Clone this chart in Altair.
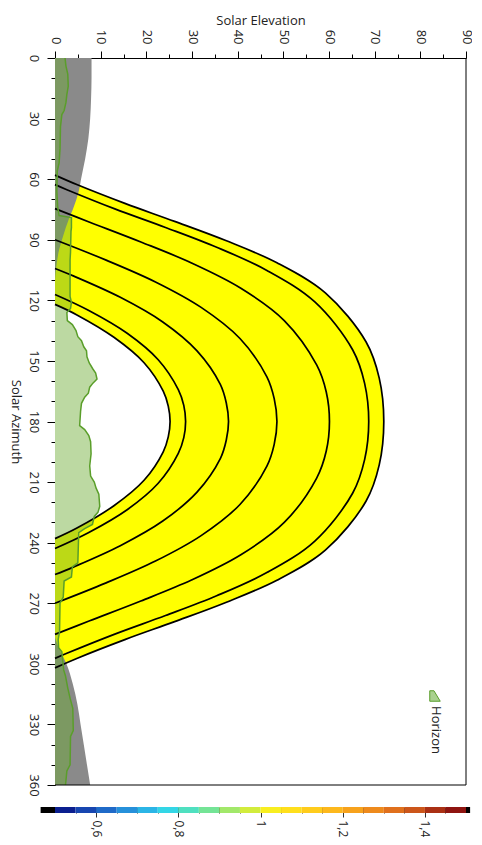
import altair as alt
import pandas as pd

# ---------------- data ----------------
# sun paths (azimuth in deg, elevation in deg), outermost = summer solstice
c7_az = [58.0, 62.8, 72.0, 80.9, 90.4, 101.4, 116.3, 140.5, 158.5, 180.0, 201.5, 219.5, 243.7, 258.6, 269.6, 279.1, 288.0, 297.2, 302.0]
c7_el = [0, 4.9, 15.3, 26.2, 37.4, 48.6, 59.2, 68.1, 71.0, 72.0, 71.0, 68.1, 59.2, 48.6, 37.4, 26.2, 15.3, 4.9, 0]
c6_az = [62.7, 65.2, 74.7, 83.9, 93.7, 105.3, 120.8, 144.6, 161.1, 180.0, 198.9, 215.4, 239.2, 254.7, 266.3, 276.1, 285.3, 294.8, 297.3]
c6_el = [0, 2.6, 13.1, 24.2, 35.4, 46.5, 56.9, 65.2, 67.8, 68.7, 67.8, 65.2, 56.9, 46.5, 35.4, 24.2, 13.1, 2.6, 0]
c5_az = [74.6, 81.3, 91.1, 101.6, 114.0, 130.0, 152.0, 165.4, 180.0, 194.6, 208.0, 230.0, 246.0, 258.4, 268.9, 278.7, 285.4]
c5_el = [0, 7.6, 18.8, 30.0, 40.7, 50.2, 57.3, 59.4, 60.1, 59.4, 57.3, 50.2, 40.7, 30.0, 18.8, 7.6, 0]
c4_az = [90.0, 100.1, 110.9, 123.5, 138.9, 157.9, 168.7, 180.0, 191.3, 202.1, 221.1, 236.5, 249.1, 259.9, 270.0]
c4_el = [0, 11.2, 22.0, 32.0, 40.5, 46.4, 48.0, 48.6, 48.0, 46.4, 40.5, 32.0, 22.0, 11.2, 0]
c3_az = [104.2, 107.9, 118.5, 130.7, 145.0, 161.6, 170.7, 180.0, 189.3, 198.4, 215.0, 229.3, 241.5, 252.1, 255.8]
c3_el = [0, 4.0, 14.3, 23.6, 31.1, 36.2, 37.5, 38.0, 37.5, 36.2, 31.1, 23.6, 14.3, 4.0, 0]
c2_az = [117.1, 124.9, 136.3, 149.4, 164.2, 172.0, 180.0, 188.0, 195.8, 210.6, 223.7, 235.1, 242.9]
c2_el = [0, 7.3, 15.8, 22.6, 27.0, 28.2, 28.6, 28.2, 27.0, 22.6, 15.8, 7.3, 0]
c1_az = [122.0, 127.1, 138.3, 150.9, 165.0, 172.4, 180.0, 187.6, 195.0, 209.1, 221.7, 232.9, 238.0]
c1_el = [0, 4.7, 12.9, 19.5, 23.7, 24.8, 25.2, 24.8, 23.7, 19.5, 12.9, 4.7, 0]

# grey region near the horizon (two parts)
grayA_az = [0, 10, 20, 30, 40, 50, 60, 65, 70, 75, 80, 88, 95, 105, 110]
grayA_el = [8.0, 8.0, 7.9, 7.7, 7.3, 6.6, 5.7, 5.3, 4.7, 3.9, 3.0, 1.8, 0.9, 0.2, 0]
grayB_az = [287, 292, 300, 310, 320, 330, 340, 350, 360]
grayB_el = [0, 0.8, 2.5, 3.9, 4.9, 5.6, 6.3, 7.0, 7.7]

# horizon profile
hor_az = [0, 4, 8, 14, 18, 22, 26, 28, 34, 45, 52, 56, 66, 74, 78, 79, 84, 86, 96, 100, 110, 118, 121, 124, 126, 130,
          132, 135, 138, 140, 143, 145, 148, 151, 154, 156, 159, 161, 163, 166, 168, 171, 175, 182, 184, 187, 190,
          196, 202, 207, 210, 213, 216, 222, 225, 227, 231, 233, 235, 250, 252, 257, 259, 267, 270, 284, 288, 292,
          294, 303, 306, 312, 317, 322, 333, 336, 350, 353, 360]
hor_el = [2.2, 2.4, 2.8, 2.9, 2.6, 2.4, 2.0, 1.5, 1.2, 1.1, 0.9, 0.5, 0.4, 0.6, 0.9, 3.6, 3.6, 3.5, 3.4, 3.3, 3.3, 3.3, 3.6, 3.4, 2.6, 2.7,
          3.8, 4.6, 5.0, 5.8, 6.3, 6.9, 7.0, 7.5, 8.3, 8.9, 9.2, 8.3, 7.6, 7.3, 6.5, 5.8, 5.6, 5.4, 6.5, 7.4, 7.8,
          7.9, 7.6, 7.8, 8.6, 9.0, 9.6, 9.8, 9.4, 8.6, 8.2, 6.5, 5.2, 5.0, 3.8, 3.6, 2.0, 1.8, 1.1, 1.0, 0.7, 0.8,
          1.5, 1.9, 2.3, 2.8, 3.3, 3.9, 4.0, 3.4, 3.3, 2.6, 2.3]

# colour bar cells
cb_lo = [0.465, 0.50, 0.55, 0.60, 0.65, 0.70, 0.75, 0.80, 0.85, 0.90, 0.95,
         1.00, 1.05, 1.10, 1.15, 1.20, 1.25, 1.30, 1.35, 1.40, 1.45, 1.50]
cb_hi = [0.50, 0.55, 0.60, 0.65, 0.70, 0.75, 0.80, 0.85, 0.90, 0.95, 1.00,
         1.05, 1.10, 1.15, 1.20, 1.25, 1.30, 1.35, 1.40, 1.45, 1.50, 1.51]
cb_ticks = [0.55, 0.6, 0.65, 0.7, 0.75, 0.8, 0.85, 0.9, 0.95, 1.0, 1.05, 1.1, 1.15, 1.2, 1.25, 1.3, 1.35, 1.4, 1.45]

cb_colors = ["#000000", "#0b1f8f", "#1746b0", "#1f6ac8", "#2690da", "#2bb5e6", "#33d6e6", "#4fe0c0",
             "#74e496", "#a2e86a", "#d2ec3c", "#f8ee20", "#ffdf1c", "#ffcc1c", "#fdb81c", "#f7a21c",
             "#ee8a1c", "#e0701c", "#cc561a", "#aa3014", "#8e1410", "#000000"]

# ---------------- frames ----------------
curves = []
for name, az, el in [("c1", c1_az, c1_el), ("c2", c2_az, c2_el), ("c3", c3_az, c3_el), ("c4", c4_az, c4_el),
                     ("c5", c5_az, c5_el), ("c6", c6_az, c6_el), ("c7", c7_az, c7_el)]:
    curves.append(pd.DataFrame({"az": az, "el": el, "curve": name, "i": range(len(az))}))
paths = pd.concat(curves, ignore_index=True)
outer = pd.DataFrame({"az": c7_az, "el": c7_el})
inner = pd.DataFrame({"az": c1_az, "el": c1_el})
gray = pd.concat([
    pd.DataFrame({"az": grayA_az, "el": grayA_el, "part": "a"}),
    pd.DataFrame({"az": grayB_az, "el": grayB_el, "part": "b"}),
], ignore_index=True)
horizon = pd.DataFrame({"az": hor_az, "el": hor_el, "i": range(len(hor_az))})
cbdf = pd.DataFrame({"lo": cb_lo, "hi": cb_hi, "k": [f"k{j:02d}" for j in range(len(cb_lo))]})

FONT = "Open Sans"

xaxis = alt.Axis(orient="top", values=list(range(0, 91, 5)),
                 labelExpr="datum.value % 10 === 0 ? datum.label : ''",
                 labelAngle=90, labelPadding=7,
                 tickSize={"condition": {"test": "datum.value % 10 === 0", "value": 7}, "value": 4},
                 title="Solar Elevation", titlePadding=2)
yaxis = alt.Axis(orient="left", values=list(range(0, 361, 10)),
                 labelExpr="datum.value % 30 === 0 ? datum.label : ''",
                 labelAngle=90, labelPadding=8,
                 tickSize={"condition": {"test": "datum.value % 30 === 0", "value": 8}, "value": 4},
                 title="Solar Azimuth", titleAngle=90, titleBaseline="top", titlePadding=5)

xscale = alt.Scale(domain=[0, 90], nice=False)
yscale = alt.Scale(domain=[0, 360], nice=False, reverse=True)
X = alt.X("el:Q", scale=xscale, axis=xaxis)
XA = alt.X("el:Q", scale=xscale, axis=xaxis, stack=None)
Y = alt.Y("az:Q", scale=yscale, axis=yaxis)

yellow = alt.Chart(outer).mark_area(orient="horizontal", interpolate="catmull-rom", color="#ffff00").encode(
    x=XA, y=Y)
white = alt.Chart(inner).mark_area(orient="horizontal", interpolate="catmull-rom", color="#ffffff").encode(
    x=XA, y=Y)
grey = alt.Chart(gray).mark_area(orient="horizontal", interpolate="monotone", color="#8a8a8a").encode(
    x=XA, y=Y, detail="part:N")
hfill = alt.Chart(horizon).mark_area(orient="horizontal", color="#6aaa30", opacity=0.45).encode(
    x=XA, y=Y)
lines = alt.Chart(paths).mark_line(interpolate="catmull-rom", color="#000000", strokeWidth=1.7).encode(
    x=X, y=Y, detail="curve:N", order="i:Q")
hline = alt.Chart(horizon).mark_line(color="#5a9e2a", strokeWidth=1.5).encode(
    x=X, y=Y, order="i:Q")
right_edge = alt.Chart(pd.DataFrame({"el": [90]})).mark_rule(color="#000000", strokeWidth=1).encode(x=X)
bottom_edge = alt.Chart(pd.DataFrame({"az": [360]})).mark_rule(color="#000000", strokeWidth=1).encode(y=Y)

leg_sym = alt.Chart(pd.DataFrame({"t": ["Horizon"]})).mark_point(
    shape="M -1 1 L -1 -1 L -0.2 -1 L 1 1 Z", filled=True, fill="#a9d18e", stroke="#5a9e2a",
    strokeWidth=1, size=110, opacity=1).encode(x=alt.value(380), y=alt.value(638))
leg_txt = alt.Chart(pd.DataFrame({"t": ["Horizon"]})).mark_text(
    angle=90, align="center", baseline="middle", font=FONT, fontSize=13, color="#222").encode(
    x=alt.value(381), y=alt.value(672), text="t:N")

main = alt.layer(yellow, white, grey, hfill, lines, hline, right_edge, bottom_edge, leg_sym, leg_txt).properties(
    width=411, height=727)

cbtest = "abs(datum.value*5 - round(datum.value*5)) < 0.001"
cbar = alt.Chart(cbdf).mark_rect().encode(
    x=alt.X("lo:Q", scale=alt.Scale(domain=[0.5, 1.5], nice=False, zero=False),
            axis=alt.Axis(orient="bottom", values=cb_ticks, domain=False, offset=-6,
                          labelExpr=f"{cbtest} ? replace(format(datum.value, '.1~f'), '.', ',') : ''",
                          labelAngle=90, labelPadding=3, labelFontSize=12,
                          tickSize={"condition": {"test": cbtest, "value": 10}, "value": 6},
                          tickColor="#333", title=None)),
    x2="hi:Q",
    color=alt.Color("k:N", scale=alt.Scale(domain=list(cbdf["k"]), range=cb_colors), legend=None),
).properties(width=411, height=6)

chart = alt.vconcat(main, cbar, spacing=9).properties(
    padding={"left": 0, "top": 6, "right": 0, "bottom": 0}
).configure_view(stroke=None).configure_axis(
    grid=False, domainColor="#000000", tickColor="#000000", labelColor="#222222", titleColor="#222222",
    labelFont=FONT, titleFont=FONT, labelFontSize=13, titleFontSize=13, titleFontWeight="normal"
)

chart.save("out.html", embed_options={"renderer": "svg", "actions": False})
